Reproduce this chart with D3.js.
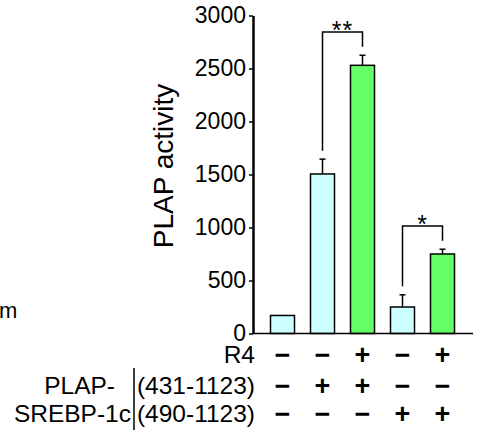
<!DOCTYPE html>
<html>
<head>
<meta charset="utf-8">
<script src="https://cdn.jsdelivr.net/npm/d3@7"></script>
<style>
  body { margin: 0; background: #fff; }
  svg { display: block; font-family: "Liberation Sans", Arial, sans-serif; }
</style>
</head>
<body>
<div id="viz"></div>
<script>
const groups = ["g1", "g2", "g3", "g4", "g5"];
const means = [170, 1505, 2530, 250, 750];
const errors = [0, 140, 95, 115, 45];
const barColors = ["#ccffff", "#ccffff", "#66ff66", "#ccffff", "#66ff66"];
const yTicks = [0, 500, 1000, 1500, 2000, 2500, 3000];

const r4Signs = ["−", "−", "+", "−", "+"];
const row431Signs = ["−", "+", "+", "−", "−"];
const row490Signs = ["−", "−", "−", "+", "+"];

// significance brackets: left/right bar index, top of bracket, label
const brackets = [
  { from: 1, to: 2, top: 2845, label: "**" },
  { from: 3, to: 4, top: 1015, label: "*" }
];
const bracketGap = 80;

const width = 484, height = 430;
const svg = d3.select("#viz").append("svg")
  .attr("width", width)
  .attr("height", height);

const x = d3.scaleBand()
  .domain(groups)
  .range([262.5, 462.5])
  .paddingInner(0.4)
  .paddingOuter(0.2);

const y = d3.scaleLinear()
  .domain([0, 3000])
  .range([333.5, 15.5]);

// y axis
const yAxis = svg.append("g")
  .attr("transform", "translate(253,0)")
  .call(d3.axisLeft(y).tickValues(yTicks).tickFormat(d3.format("d"))
    .tickSize(4).tickSizeOuter(0).tickPadding(3));
yAxis.select(".domain").attr("stroke-width", 2.5);
yAxis.selectAll(".tick line").attr("stroke-width", 1.5);
yAxis.selectAll("text")
  .attr("font-size", 23)
  .attr("font-family", "Liberation Sans, Arial, sans-serif")
  .attr("fill", "#000");

svg.append("text")
  .attr("transform", `translate(173,166) rotate(-90)`)
  .attr("text-anchor", "middle")
  .attr("font-size", 28)
  .text("PLAP activity");

// bars
svg.selectAll("rect.bar")
  .data(groups)
  .join("rect")
    .attr("class", "bar")
    .attr("x", d => x(d))
    .attr("width", x.bandwidth())
    .attr("y", (d, i) => y(means[i]))
    .attr("height", (d, i) => y(0) - y(means[i]))
    .attr("fill", (d, i) => barColors[i])
    .attr("stroke", "#000")
    .attr("stroke-width", 1.5);

// error bars (upper only)
const err = svg.append("g").attr("stroke", "#000").attr("stroke-width", 1.5);
groups.forEach((g, i) => {
  if (!errors[i]) return;
  const cx = x(g) + x.bandwidth() / 2;
  err.append("line")
    .attr("x1", cx).attr("x2", cx)
    .attr("y1", y(means[i])).attr("y2", y(means[i] + errors[i]));
  err.append("line")
    .attr("x1", cx - 3).attr("x2", cx + 3)
    .attr("y1", y(means[i] + errors[i])).attr("y2", y(means[i] + errors[i]));
});

// x axis baseline
svg.append("line")
  .attr("x1", 253).attr("x2", 473)
  .attr("y1", y(0)).attr("y2", y(0))
  .attr("stroke", "#000")
  .attr("stroke-width", 1.5);

// brackets
brackets.forEach(b => {
  const x1 = x(groups[b.from]) + x.bandwidth() / 2;
  const x2 = x(groups[b.to]) + x.bandwidth() / 2;
  const yl = means[b.from] + errors[b.from] + bracketGap;
  const yr = means[b.to] + errors[b.to] + bracketGap;
  svg.append("path")
    .attr("d", `M${x1},${y(yl)}V${y(b.top)}H${x2}V${y(yr)}`)
    .attr("fill", "none")
    .attr("stroke", "#000")
    .attr("stroke-width", 1.5);
  svg.append("text")
    .attr("x", (x1 + x2) / 2)
    .attr("y", y(b.top) + 7)
    .attr("text-anchor", "middle")
    .attr("font-size", 25)
    .attr("letter-spacing", 1)
    .text(b.label);
});

// sign rows
const rows = [
  { label: "R4", signs: r4Signs, base: 363 },
  { label: "(431-1123)", signs: row431Signs, base: 394 },
  { label: "(490-1123)", signs: row490Signs, base: 422 }
];
rows.forEach(r => {
  svg.append("text")
    .attr("x", 255)
    .attr("y", r.base)
    .attr("text-anchor", "end")
    .attr("font-size", 24.5)
    .text(r.label);
  svg.selectAll(null)
    .data(r.signs)
    .join("text")
      .attr("x", (d, i) => x(groups[i]) + x.bandwidth() / 2)
      .attr("y", r.base + 1)
      .attr("text-anchor", "middle")
      .attr("font-size", 27)
      .attr("font-weight", "bold")
      .text(d => d);
});

svg.append("text")
  .attr("x", 115).attr("y", 394)
  .attr("text-anchor", "end")
  .attr("font-size", 24.5)
  .text("PLAP-");
svg.append("text")
  .attr("x", 131).attr("y", 422)
  .attr("text-anchor", "end")
  .attr("font-size", 24.5)
  .text("SREBP-1c");
svg.append("line")
  .attr("x1", 134).attr("x2", 134)
  .attr("y1", 368).attr("y2", 430)
  .attr("stroke", "#000")
  .attr("stroke-width", 1.5);

// clipped text from neighbouring panel
svg.append("text")
  .attr("x", -1).attr("y", 318)
  .attr("font-size", 22)
  .text("m");
</script>
</body>
</html>
